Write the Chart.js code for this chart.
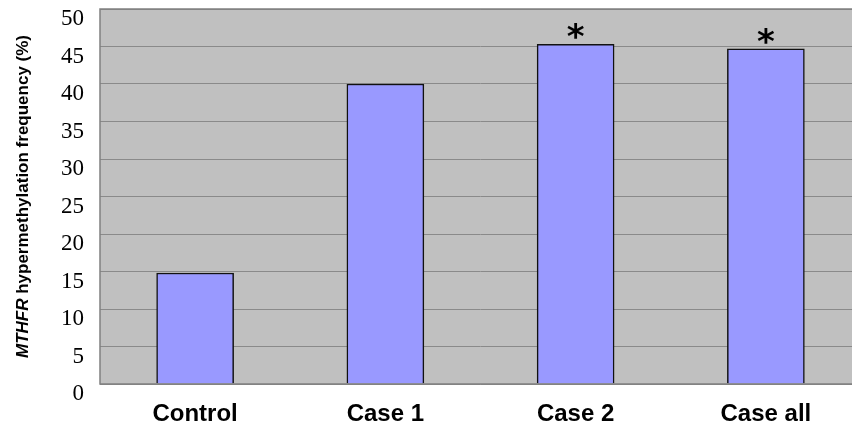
<!DOCTYPE html>
<html>
<head>
<meta charset="utf-8">
<script src="https://cdn.jsdelivr.net/npm/chart.js@4.4.1/dist/chart.umd.min.js"></script>
<style>
    html, body { margin: 0; padding: 0; background: #fff; overflow: hidden; }
    #wrap { width: 861px; height: 429px; }
</style>
</head>
<body>
<div id="wrap"><canvas id="freqChart" width="861" height="429"></canvas></div>
<script>
const categories = ['Control', 'Case 1', 'Case 2', 'Case all'];
const frequencies = [14.8, 40.0, 45.3, 44.7];
const significant = [false, false, true, true]; // asterisk marks
const yTicks = [0, 5, 10, 15, 20, 25, 30, 35, 40, 45, 50];

// grey plot background + outline
const plotBackground = {
    id: 'plotBackground',
    beforeDraw(chart) {
        const { ctx, chartArea: a } = chart;
        ctx.save();
        ctx.fillStyle = '#c0c0c0';
        ctx.fillRect(a.left, a.top, a.right - a.left, a.bottom - a.top);
        ctx.restore();
    },
    afterDatasetsDraw(chart) {
        const { ctx, chartArea: a } = chart;
        ctx.save();
        ctx.strokeStyle = '#808080';
        ctx.lineWidth = 1.5;
        ctx.strokeRect(a.left, a.top, a.right - a.left, a.bottom - a.top);
        ctx.restore();
    }
};

// y tick labels, y title with italic gene name, and the asterisks
const annotations = {
    id: 'annotations',
    afterDraw(chart) {
        const ctx = chart.ctx;
        const a = chart.chartArea;
        const yScale = chart.scales.y;

        // labels sit a little below their gridlines, as in the original
        ctx.save();
        ctx.fillStyle = '#000';
        ctx.font = '23px "Liberation Serif", "Times New Roman", serif';
        ctx.textAlign = 'right';
        ctx.textBaseline = 'middle';
        yTicks.forEach(v => {
            ctx.fillText(String(v), a.left - 16, yScale.getPixelForValue(v) + 10);
        });
        ctx.restore();

        ctx.save();
        ctx.translate(23, (a.top + a.bottom) / 2);
        ctx.rotate(-Math.PI / 2);
        ctx.fillStyle = '#000';
        ctx.textBaseline = 'middle';
        const italicPart = 'MTHFR';
        const rest = ' hypermethylation frequency (%)';
        const fam = '"Liberation Sans", Arial, sans-serif';
        ctx.font = 'italic bold 17px ' + fam;
        const w1 = ctx.measureText(italicPart).width;
        ctx.font = 'bold 17px ' + fam;
        const w2 = ctx.measureText(rest).width;
        const x = -(w1 + w2) / 2;
        ctx.textAlign = 'left';
        ctx.font = 'italic bold 17px ' + fam;
        ctx.fillText(italicPart, x, 0);
        ctx.font = 'bold 17px ' + fam;
        ctx.fillText(rest, x + w1, 0);
        ctx.restore();

        const meta = chart.getDatasetMeta(0);
        ctx.save();
        ctx.fillStyle = '#000';
        ctx.font = 'bold 34px "DejaVu Sans", sans-serif';
        ctx.textAlign = 'center';
        ctx.textBaseline = 'alphabetic';
        meta.data.forEach((bar, i) => {
            if (significant[i]) {
                ctx.fillText('*', bar.x, bar.y + 4);
            }
        });
        ctx.restore();
    }
};

new Chart(document.getElementById('freqChart'), {
    type: 'bar',
    data: {
        labels: categories,
        datasets: [{
            data: frequencies,
            backgroundColor: '#9999ff',
            borderColor: '#111',
            borderWidth: 1.5,
            barThickness: 77
        }]
    },
    options: {
        responsive: false,
        animation: false,
        layout: { padding: { top: 9, right: 0, left: 0, bottom: 0 } },
        scales: {
            x: {
                grid: { display: false, drawTicks: false },
                border: { display: false },
                ticks: {
                    color: '#000',
                    padding: 16,
                    font: { family: '"Liberation Sans", Arial, sans-serif', size: 24, weight: 'bold' }
                },
                afterFit(scale) { scale.height = 45; }
            },
            y: {
                min: 0,
                max: 50,
                afterBuildTicks(scale) {
                    scale.ticks = yTicks.map(v => ({ value: v }));
                },
                grid: { color: '#8a8a8a', lineWidth: 1, drawTicks: false },
                border: { display: false },
                ticks: { display: false },
                afterFit(scale) { scale.width = 100; }
            }
        },
        plugins: {
            legend: { display: false },
            tooltip: { enabled: false }
        }
    },
    plugins: [plotBackground, annotations]
});
</script>
</body>
</html>
